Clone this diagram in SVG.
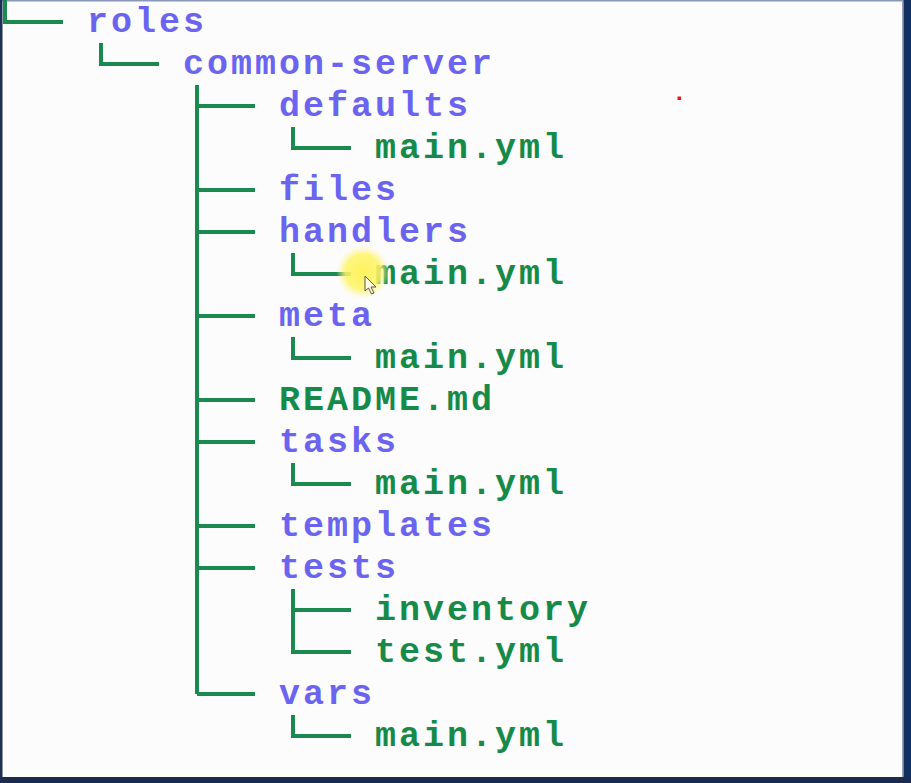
<svg xmlns="http://www.w3.org/2000/svg" width="911" height="783" viewBox="0 0 911 783">
  <defs>
    <radialGradient id="glow" cx="0.5" cy="0.5" r="0.5">
      <stop offset="0" stop-color="#fff35c" stop-opacity="1"/>
      <stop offset="0.65" stop-color="#fff466" stop-opacity="0.85"/>
      <stop offset="1" stop-color="#fff8a8" stop-opacity="0"/>
    </radialGradient>
  </defs>
  <style>
    text { font-family: "Liberation Mono", "DejaVu Sans Mono", monospace; font-weight: bold; font-size: 35px; letter-spacing: 3px; }
    .dir { fill: #6b64f0; }
    .file { fill: #168a48; }
    .tree { stroke: #1a8a50; stroke-width: 4; fill: none; stroke-linecap: butt; }
  </style>

  <!-- window background and frame -->
  <rect x="0" y="0" width="911" height="783" fill="#fcfcfc"/>
  <rect x="0" y="0" width="911" height="1.5" fill="#8a98b8"/>
  <rect x="0" y="0" width="2.5" height="783" fill="#1d2f55"/>
  <rect x="902" y="0" width="1.5" height="783" fill="#9aa4bb"/>
  <rect x="903.5" y="0" width="7.5" height="783" fill="#12305f"/>
  <rect x="0" y="777" width="911" height="6" fill="#1b2b4d"/>

  <!-- tree branches -->
  <g id="connectors" class="tree">
    <path d="M5,0 V22 H63"/>
    <path d="M101,43 V64 H159"/>
    <path d="M197,85 V694"/>
    <path d="M197,106 H255 M197,190 H255 M197,232 H255 M197,316 H255 M197,400 H255 M197,442 H255 M197,526 H255 M197,568 H255 M197,694 H255"/>
    <path d="M293,127 V148 H351"/>
    <path d="M293,253 V274 H351"/>
    <path d="M293,337 V358 H351"/>
    <path d="M293,463 V484 H351"/>
    <path d="M293,589 V652 H351 M293,610 H351"/>
    <path d="M293,715 V736 H351"/>
  </g>

  <g id="roles"><text class="dir" x="87" y="32">roles</text></g>
  <g id="common-server"><text class="dir" x="183" y="74">common-server</text></g>
  <g id="defaults"><text class="dir" x="279" y="116">defaults</text></g>
  <g id="defaults-main"><text class="file" x="375" y="158">main.yml</text></g>
  <g id="files"><text class="dir" x="279" y="200">files</text></g>
  <g id="handlers"><text class="dir" x="279" y="242">handlers</text></g>
  <g id="handlers-main"><text class="file" x="375" y="284">main.yml</text></g>
  <g id="meta"><text class="dir" x="279" y="326">meta</text></g>
  <g id="meta-main"><text class="file" x="375" y="368">main.yml</text></g>
  <g id="readme"><text class="file" x="279" y="410">README.md</text></g>
  <g id="tasks"><text class="dir" x="279" y="452">tasks</text></g>
  <g id="tasks-main"><text class="file" x="375" y="494">main.yml</text></g>
  <g id="templates"><text class="dir" x="279" y="536">templates</text></g>
  <g id="tests"><text class="dir" x="279" y="578">tests</text></g>
  <g id="tests-inventory"><text class="file" x="375" y="620">inventory</text></g>
  <g id="tests-test"><text class="file" x="375" y="662">test.yml</text></g>
  <g id="vars"><text class="dir" x="279" y="704">vars</text></g>
  <g id="vars-main"><text class="file" x="375" y="746">main.yml</text></g>

  <!-- pointer highlight and cursor -->
  <circle cx="363" cy="272" r="27" fill="url(#glow)"/>
  <path d="M365,276 L365,291 L368.5,288 L371.5,294 L374,293 L371,287 L376,287 Z" fill="#fffbe0" stroke="#555" stroke-width="1"/>

  <!-- stray red dot -->
  <rect x="677.5" y="96.5" width="3.5" height="3.5" fill="#e81818"/>
</svg>
